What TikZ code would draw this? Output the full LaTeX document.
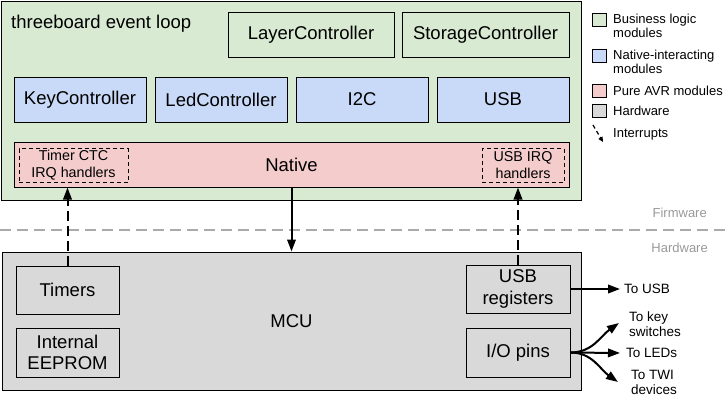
\documentclass[tikz,border=0pt]{standalone}
\usepackage{fontspec}
\setmainfont{Liberation Sans}
\usetikzlibrary{arrows.meta}
\definecolor{bizgreen}{HTML}{D9EAD3}
\definecolor{natblue}{HTML}{C9DAF8}
\definecolor{avrred}{HTML}{F4CCCC}
\definecolor{hwgray}{HTML}{D9D9D9}
\definecolor{sepgray}{HTML}{AAAAAA}
\definecolor{labgray}{HTML}{999999}
\begin{document}
\begin{tikzpicture}[x=1pt,y=-1pt,
  box/.style={draw=black, line width=1pt, inner sep=0pt, align=center,
    font=\fontsize{18.5}{21.5}\selectfont},
  irqbox/.style={draw=black, line width=0.9pt, dash pattern=on 4pt off 3pt,
    inner sep=0pt, align=center, font=\fontsize{14.3}{17}\selectfont},
  legbox/.style={draw=black, line width=0.8pt, minimum width=14, minimum height=13, inner sep=0pt},
  legtext/.style={anchor=west, inner sep=0pt, align=left, font=\fontsize{13}{14}\selectfont},
  outtext/.style={anchor=west, inner sep=0pt, align=left, font=\fontsize{13.5}{15}\selectfont},
  sidetext/.style={anchor=east, inner sep=0pt, text=labgray, font=\fontsize{13}{14}\selectfont},
  tip/.style={-{Triangle[length=12pt,width=8.5pt]}},
  intr/.style={tip, line width=2pt, dash pattern=on 10pt off 5pt},
  solidarr/.style={tip, line width=2pt},
  outarr/.style={-{Triangle[length=12pt,width=8.5pt]}, line width=2pt},
  sepline/.style={draw=sepgray, line width=2pt, dash pattern=on 11pt off 6pt}
]
\useasboundingbox (0,0) rectangle (728,400);
% firmware container
\node[box, fill=bizgreen, minimum width=580, minimum height=199, anchor=north west] (loop) at (1,1) {};
\node[anchor=base west, inner sep=0pt, font=\fontsize{18.5}{21.5}\selectfont] (looplabel) at (11,28) {threeboard event loop};
\node[box, fill=bizgreen, minimum width=166, minimum height=45] (layer) at (311,34.5) {LayerController};
\node[box, fill=bizgreen, minimum width=167, minimum height=45] (storage) at (485.5,34.5) {StorageController};
\node[box, fill=natblue, minimum width=132, minimum height=45] (key) at (80,99.5) {KeyController};
\node[box, fill=natblue, minimum width=132, minimum height=45] (led) at (221,99.5) {LedController};
\node[box, fill=natblue, minimum width=132, minimum height=45] (i2c) at (362,99.5) {I2C};
\node[box, fill=natblue, minimum width=132, minimum height=45] (usb) at (503,99.5) {USB};
\node[box, fill=avrred, minimum width=555, minimum height=45] (native) at (291.5,164.5) {Native};
\node[irqbox, minimum width=109, minimum height=34] (timerirq) at (73.5,165.5) {Timer CTC\\IRQ handlers};
\node[irqbox, minimum width=82, minimum height=34] (usbirq) at (523,165.5) {USB IRQ\\handlers};
% separator
\coordinate (sepL) at (0,230);
\coordinate (sepR) at (728,230);
\draw[sepline] (sepL) -- (sepR);
\node[sidetext] (fw) at (707,213) {Firmware};
\node[sidetext] (hw) at (708,248) {Hardware};
% hardware
\node[box, fill=hwgray, minimum width=579, minimum height=138] (mcu) at (291.5,321) {MCU};
\node[box, fill=hwgray, minimum width=103, minimum height=48] (timers) at (67.5,290) {Timers};
\node[box, fill=hwgray, minimum width=103, minimum height=49] (eeprom) at (67.5,352.5) {Internal\\EEPROM};
\node[box, fill=hwgray, minimum width=104, minimum height=48] (usbreg) at (518,289) {USB\\registers};
\node[box, fill=hwgray, minimum width=104, minimum height=49] (io) at (518,352.5) {I/O pins};
% connectors
\draw[intr] (timers.north) -- (timers.north |- native.south);
\draw[intr] (usbreg.north) -- (usbreg.north |- native.south);
\draw[solidarr] (native.south) -- (native.south |- mcu.north);
\coordinate (tousb) at (620,289);
\coordinate (tokey) at (619,323);
\coordinate (toled) at (620,353);
\coordinate (totwi) at (618,382);
\draw[outarr] (usbreg.east) -- (tousb);
\draw[outarr] (io.east) to[out=0,in=215] (tokey);
\draw[outarr] (io.east) -- (toled);
\draw[outarr] (io.east) to[out=0,in=145] (totwi);
\node[outtext] (ltousb) at (624,289) {To USB};
\node[outtext] (ltokey) at (629,324.5) {To key\\switches};
\node[outtext] (ltoled) at (626,353) {To LEDs};
\node[outtext] (ltotwi) at (631,382.5) {To TWI\\devices};
% legend
\node[legbox, fill=bizgreen] (lg1) at (599,19.5) {};
\node[legtext] (lt1) at (613,26) {Business logic\\modules};
\node[legbox, fill=natblue] (lg2) at (599,55.5) {};
\node[legtext] (lt2) at (613,62) {Native-interacting\\modules};
\node[legbox, fill=avrred] (lg3) at (599,90.5) {};
\node[legtext] (lt3) at (613,91) {Pure AVR modules};
\node[legbox, fill=hwgray] (lg4) at (599,111) {};
\node[legtext] (lt4) at (613,111) {Hardware};
\coordinate (lia) at (593,125);
\coordinate (lib) at (603,142);
\draw[-{Triangle[length=5pt,width=4.5pt]}, line width=1.2pt, dash pattern=on 4pt off 3pt] (lia) -- (lib);
\node[legtext] (lt5) at (613,134) {Interrupts};
\end{tikzpicture}
\end{document}
